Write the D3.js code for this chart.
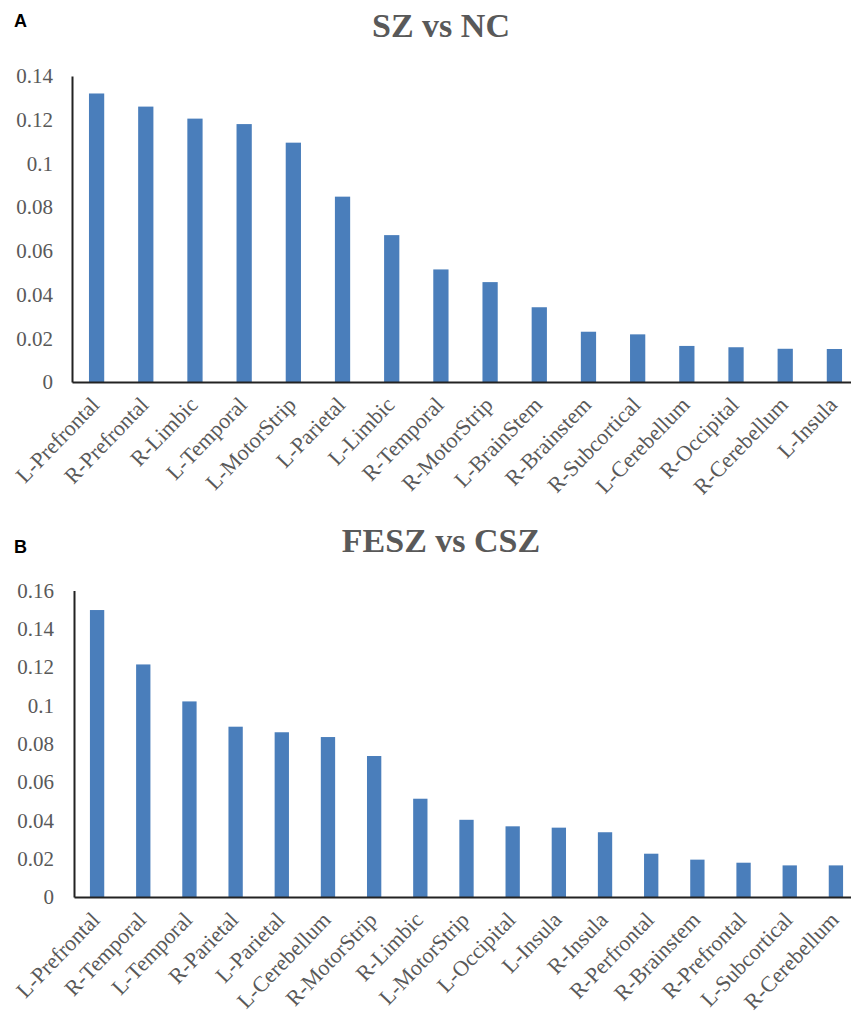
<!DOCTYPE html>
<html>
<head>
<meta charset="utf-8">
<script src="https://cdn.jsdelivr.net/npm/d3@7"></script>
<style>
  html, body { margin: 0; padding: 0; background: #fff; }
  svg { display: block; }
</style>
</head>
<body>
<script>
// Panel A: SZ vs NC
const regionsA = ["L-Prefrontal","R-Prefrontal","R-Limbic","L-Temporal","L-MotorStrip","L-Parietal","L-Limbic","R-Temporal","R-MotorStrip","L-BrainStem","R-Brainstem","R-Subcortical","L-Cerebellum","R-Occipital","R-Cerebellum","L-Insula"];
const valuesA = [0.132,0.126,0.1205,0.118,0.1095,0.0848,0.0672,0.0515,0.0457,0.0342,0.023,0.0218,0.0165,0.0159,0.0152,0.0151];
const ticksA = [0,0.02,0.04,0.06,0.08,0.1,0.12,0.14];

// Panel B: FESZ vs CSZ
const regionsB = ["L-Prefrontal","R-Temporal","L-Temporal","R-Parietal","L-Parietal","L-Cerebellum","R-MotorStrip","R-Limbic","L-MotorStrip","L-Occipital","L-Insula","R-Insula","R-Perfrontal","R-Brainstem","R-Prefrontal","L-Subcortical","R-Cerebellum"];
const valuesB = [0.1498,0.1214,0.1021,0.0889,0.086,0.0835,0.0736,0.0513,0.0403,0.0369,0.0362,0.0338,0.0226,0.0195,0.0179,0.0165,0.0165];
const ticksB = [0,0.02,0.04,0.06,0.08,0.1,0.12,0.14,0.16];

const W = 851, H = 1014;
const barColor = "#4a7ebb";
const textColor = "#595959";
const serif = "'Liberation Serif','Times New Roman',serif";

const svg = d3.select("body").append("svg").attr("width", W).attr("height", H);

function panel(cfg) {
  const g = svg.append("g");

  g.append("text")
    .attr("x", cfg.letterX).attr("y", cfg.letterY)
    .attr("font-family", "'Liberation Sans',Arial,sans-serif")
    .attr("font-weight", "bold").attr("font-size", 18).attr("fill", "#000")
    .text(cfg.letter);

  g.append("text")
    .attr("x", cfg.titleX).attr("y", cfg.titleY)
    .attr("text-anchor", "middle")
    .attr("font-family", serif).attr("font-weight", "bold")
    .attr("font-size", 34).attr("fill", textColor)
    .text(cfg.title);

  const x = d3.scaleBand().domain(cfg.cats)
    .range([cfg.x0, cfg.x1]).paddingInner(0.69).paddingOuter(0.345);
  const y = d3.scaleLinear().domain([0, cfg.yMax]).range([cfg.y0, cfg.yTop]);

  g.selectAll("rect.bar").data(cfg.vals).join("rect")
    .attr("class", "bar")
    .attr("x", (d, i) => x(cfg.cats[i]))
    .attr("width", x.bandwidth())
    .attr("y", d => y(d))
    .attr("height", d => y(0) - y(d))
    .attr("fill", barColor);

  const yAxis = g.append("g")
    .attr("transform", `translate(${cfg.x0},0)`)
    .call(d3.axisLeft(y).tickValues(cfg.ticks).tickSize(0).tickPadding(cfg.yPad)
      .tickFormat(d => d3.format("")(+d.toFixed(2))));
  yAxis.select(".domain").attr("stroke", "#222").attr("stroke-width", 2);
  yAxis.selectAll("text")
    .attr("font-family", serif).attr("font-size", 21).attr("fill", textColor);

  const xAxis = g.append("g")
    .attr("transform", `translate(0,${cfg.y0})`)
    .call(d3.axisBottom(x).tickSize(0).tickPadding(0));
  xAxis.select(".domain").attr("stroke", "#222").attr("stroke-width", 2);
  xAxis.selectAll("text")
    .attr("font-family", serif).attr("font-size", 22).attr("fill", textColor)
    .attr("text-anchor", "end")
    .attr("dy", 0)
    .attr("transform", "translate(4,24) rotate(-46)");
}

panel({
  letter: "A", letterX: 14, letterY: 27,
  title: "SZ vs NC", titleX: 441, titleY: 37,
  cats: regionsA, vals: valuesA, ticks: ticksA, yMax: 0.14,
  x0: 72, x1: 859, y0: 382, yTop: 76, yPad: 19
});

panel({
  letter: "B", letterX: 14, letterY: 553,
  title: "FESZ vs CSZ", titleX: 441, titleY: 552,
  cats: regionsB, vals: valuesB, ticks: ticksB, yMax: 0.16,
  x0: 74, x1: 859, y0: 897, yTop: 590.5, yPad: 20
});
</script>
</body>
</html>
